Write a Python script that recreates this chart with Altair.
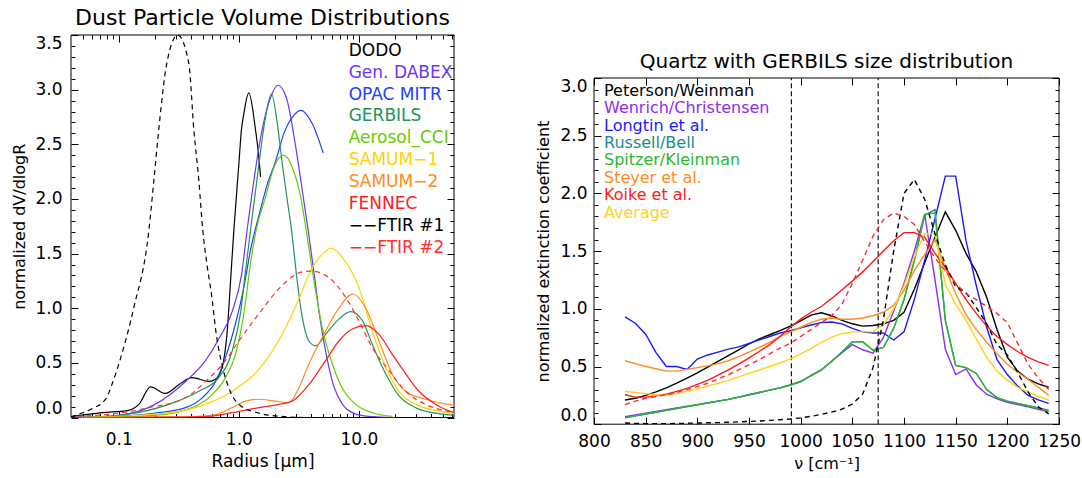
import altair as alt
import pandas as pd

FONT = "DejaVu Sans"

# ---------------- Left panel: dust volume distributions ----------------
dodo_r = [0.041, 0.0726, 0.121, 0.147, 0.184, 0.245, 0.316, 0.408, 0.562, 0.639, 0.726, 0.80, 0.853, 0.908, 1.0, 1.05, 1.10, 1.21, 1.377, 1.468, 1.516]
dodo_v = [0.01, 0.044, 0.066, 0.12, 0.28, 0.22, 0.30, 0.365, 0.33, 0.35, 0.46, 0.79, 1.25, 1.71, 2.32, 2.63, 2.78, 2.97, 2.63, 2.38, 2.20]

dabex_r = [0.045, 0.1, 0.2, 0.36, 0.527, 0.681, 0.88, 1.05, 1.17, 1.56, 1.84, 2.11, 2.48, 2.97, 3.37, 3.78, 4.25, 4.75, 5.4, 6.2, 7.3, 9.0, 12.0, 20.0]
dabex_v = [0.0, 0.02, 0.12, 0.33, 0.52, 0.72, 0.97, 1.3, 1.71, 2.63, 2.93, 3.04, 2.93, 2.48, 2.08, 1.71, 1.30, 0.90, 0.55, 0.28, 0.12, 0.04, 0.01, 0.0]

opac_r = [0.045, 0.1, 0.215, 0.36, 0.495, 0.64, 0.774, 0.938, 1.10, 1.26, 1.47, 1.71, 2.03, 2.37, 2.8, 3.28, 4.08, 5.04]
opac_v = [0.0, 0.01, 0.044, 0.09, 0.18, 0.33, 0.55, 0.86, 1.19, 1.55, 1.85, 2.12, 2.35, 2.6, 2.75, 2.81, 2.69, 2.42]

gerbils_r = [0.045, 0.1, 0.261, 0.464, 0.681, 0.88, 1.03, 1.136, 1.25, 1.47, 1.65, 1.87, 2.09, 2.30, 2.53, 2.75, 3.06, 3.37, 3.83, 4.36, 5.27, 6.81, 8.53, 10.7, 12.9, 16.7, 21.5, 29.7, 46.4, 61.9]
gerbils_v = [0.0, 0.02, 0.12, 0.24, 0.365, 0.61, 0.95, 1.34, 1.71, 2.32, 2.72, 2.96, 2.69, 2.32, 1.99, 1.71, 1.25, 0.92, 0.70, 0.656, 0.76, 0.90, 0.968, 0.885, 0.67, 0.40, 0.20, 0.09, 0.035, 0.02]

cci_r = [0.05, 0.2, 0.408, 0.6, 0.774, 0.938, 1.10, 1.25, 1.39, 1.67, 1.96, 2.37, 2.78, 3.27, 3.64, 4.22, 4.95, 6.0, 7.26, 9.4, 12.9, 19.0]
cci_v = [0.0, 0.02, 0.09, 0.21, 0.365, 0.58, 0.95, 1.41, 1.71, 2.02, 2.29, 2.40, 2.29, 2.02, 1.71, 1.25, 0.82, 0.49, 0.27, 0.12, 0.044, 0.01]

samum1_r = [0.05, 0.2, 0.464, 0.88, 1.6, 2.4, 3.2, 3.96, 5.0, 5.9, 7.2, 10.0, 12.9, 16.7, 21.5, 29.7, 46.0, 61.9]
samum1_v = [0.0, 0.03, 0.10, 0.24, 0.49, 0.80, 1.10, 1.34, 1.50, 1.55, 1.47, 1.19, 0.79, 0.46, 0.24, 0.12, 0.06, 0.035]

samum2_r = [0.05, 0.3, 0.6, 0.88, 1.14, 1.47, 2.0, 2.61, 3.16, 3.83, 5.27, 6.81, 8.91, 11.4, 14.7, 18.9, 24.5, 36.0, 61.9]
samum2_v = [0.0, 0.005, 0.02, 0.09, 0.15, 0.167, 0.15, 0.136, 0.27, 0.49, 0.79, 1.0, 1.13, 1.0, 0.70, 0.40, 0.24, 0.167, 0.11]

fennec_r = [0.04, 0.3, 0.562, 0.88, 1.47, 2.15, 2.78, 3.83, 5.27, 6.81, 8.8, 11.4, 14.7, 18.9, 24.5, 31.6, 43.7, 61.9]
fennec_v = [0.0, 0.003, 0.01, 0.044, 0.09, 0.12, 0.15, 0.30, 0.52, 0.70, 0.81, 0.84, 0.76, 0.58, 0.40, 0.24, 0.12, 0.044]

ftir1_r = [0.04, 0.0464, 0.0596, 0.078, 0.0875, 0.104, 0.133, 0.178, 0.196, 0.215, 0.251, 0.31, 0.383, 0.422, 0.464, 0.501, 0.541, 0.596, 0.643, 0.721, 0.826, 1.0, 1.47, 2.28, 3.5]
ftir1_v = [0.005, 0.03, 0.08, 0.17, 0.30, 0.55, 1.0, 1.71, 2.17, 2.63, 3.24, 3.50, 3.24, 2.63, 2.17, 1.71, 1.41, 1.10, 0.79, 0.49, 0.27, 0.12, 0.04, 0.01, 0.0]

ftir2_r = [0.045, 0.1, 0.178, 0.36, 0.527, 0.774, 1.0, 1.47, 2.3, 3.3, 3.96, 5.62, 7.74, 10.0, 12.9, 17.8, 24.5, 36.0, 52.7, 61.9]
ftir2_v = [0.01, 0.04, 0.09, 0.18, 0.33, 0.52, 0.70, 0.95, 1.21, 1.33, 1.34, 1.28, 1.10, 0.885, 0.64, 0.43, 0.24, 0.12, 0.06, 0.044]

left_names = ["DODO", "Gen. DABEX", "OPAC MITR", "GERBILS", "Aerosol_CCI",
              "SAMUM-1", "SAMUM-2", "FENNEC", "FTIR #1", "FTIR #2"]
left_labels = ["DODO", "Gen. DABEX", "OPAC MITR", "GERBILS", "Aerosol_CCI",
               "SAMUM\u22121", "SAMUM\u22122", "FENNEC", "\u2212\u2212FTIR #1", "\u2212\u2212FTIR #2"]
left_colors = ["#000000", "#6a35ff", "#2040ff", "#22925a", "#66cc00",
               "#ffd200", "#ff8c1a", "#ff2020", "#000000", "#ff3030"]
left_x = [dodo_r, dabex_r, opac_r, gerbils_r, cci_r, samum1_r, samum2_r, fennec_r, ftir1_r, ftir2_r]
left_y = [dodo_v, dabex_v, opac_v, gerbils_v, cci_v, samum1_v, samum2_v, fennec_v, ftir1_v, ftir2_v]
left_dashed = [False, False, False, False, False, False, False, False, True, True]

# ---------------- Right panel: quartz extinction spectra ----------------
nu = [830, 840, 850, 860, 870, 880, 890, 900, 910, 920, 930, 940, 950, 960,
      970, 980, 990, 1000, 1010, 1020, 1030, 1040, 1050, 1060, 1070, 1080, 1090,
      1100, 1110, 1120, 1130, 1140, 1150, 1160, 1170, 1180, 1190, 1200, 1210,
      1220, 1230, 1240]
peterson = [0.21, 0.225, 0.25, 0.28, 0.315, 0.355, 0.40, 0.445, 0.495, 0.545, 0.595, 0.645, 0.695, 0.74,
            0.775, 0.81, 0.85, 0.895, 0.945, 0.965, 0.94, 0.90, 0.87, 0.85, 0.855, 0.87, 0.90,
            0.97, 1.17, 1.40, 1.62, 1.84, 1.68, 1.48, 1.32, 1.10, 0.82, 0.58, 0.46,
            0.39, 0.35, 0.32]
wenrich = [0.065, 0.08, 0.095, 0.11, 0.125, 0.14, 0.155, 0.17, 0.185, 0.20, 0.215, 0.235, 0.255, 0.275,
           0.295, 0.315, 0.34, 0.37, 0.42, 0.47, 0.545, 0.62, 0.69, 0.645, 0.615, 0.75, 0.98,
           1.22, 1.50, 1.82, 1.25, 0.65, 0.43, 0.48, 0.34, 0.26, 0.22, 0.19, 0.17,
           0.15, 0.13, 0.11]
longtin = [0.93, 0.875, 0.78, 0.62, 0.50, 0.50, 0.475, 0.565, 0.60, 0.625, 0.65, 0.67, 0.70, 0.73,
           0.76, 0.79, 0.81, 0.835, 0.86, 0.88, 0.885, 0.87, 0.83, 0.80, 0.79, 0.79, 0.73,
           0.80, 1.08, 1.42, 1.78, 2.15, 2.15, 1.59, 1.20, 0.84, 0.56, 0.43, 0.33,
           0.25, 0.21, 0.18]
russell = [0.055, 0.072, 0.088, 0.104, 0.12, 0.136, 0.152, 0.168, 0.184, 0.20, 0.215, 0.235, 0.255, 0.275,
           0.295, 0.315, 0.34, 0.37, 0.42, 0.47, 0.545, 0.625, 0.715, 0.715, 0.64, 0.665, 0.83,
           1.08, 1.42, 1.81, 1.86, 0.90, 0.51, 0.49, 0.44, 0.30, 0.23, 0.20, 0.18,
           0.16, 0.14, 0.12]
spitzer = [0.055, 0.072, 0.088, 0.104, 0.12, 0.136, 0.152, 0.168, 0.184, 0.20, 0.215, 0.235, 0.255, 0.275,
           0.295, 0.315, 0.34, 0.37, 0.42, 0.47, 0.545, 0.625, 0.715, 0.715, 0.64, 0.665, 0.83,
           1.08, 1.42, 1.82, 1.83, 0.90, 0.51, 0.49, 0.44, 0.30, 0.23, 0.20, 0.18,
           0.16, 0.14, 0.12]
steyer = [0.55, 0.525, 0.50, 0.48, 0.46, 0.46, 0.475, 0.49, 0.505, 0.525, 0.55, 0.585, 0.625, 0.665,
          0.71, 0.76, 0.80, 0.84, 0.88, 0.91, 0.92, 0.91, 0.91, 0.92, 0.94, 0.97, 1.03,
          1.16, 1.33, 1.47, 1.60, 1.35, 1.13, 0.95, 0.82, 0.71, 0.61, 0.52, 0.45,
          0.39, 0.32, 0.25]
koike = [0.255, 0.235, 0.235, 0.245, 0.26, 0.285, 0.31, 0.345, 0.38, 0.425, 0.47, 0.52, 0.575, 0.63,
         0.69, 0.76, 0.84, 0.91, 0.97, 1.02, 1.09, 1.165, 1.24, 1.32, 1.41, 1.50, 1.59,
         1.66, 1.66, 1.62, 1.48, 1.36, 1.22, 1.08, 0.96, 0.85, 0.76, 0.69, 0.63,
         0.58, 0.54, 0.51]
average = [0.285, 0.275, 0.265, 0.255, 0.25, 0.265, 0.285, 0.305, 0.33, 0.355, 0.38, 0.41, 0.44, 0.47,
           0.50, 0.53, 0.565, 0.61, 0.655, 0.71, 0.755, 0.785, 0.80, 0.80, 0.80, 0.86, 1.00,
           1.20, 1.45, 1.65, 1.65, 1.21, 1.04, 0.90, 0.74, 0.58, 0.46, 0.38, 0.32,
           0.28, 0.24, 0.21]
black_dash = [0.01, 0.007, 0.005, 0.005, 0.005, 0.006, 0.008, 0.01, 0.012, 0.014, 0.017, 0.02, 0.024, 0.028,
              0.033, 0.039, 0.045, 0.055, 0.068, 0.085, 0.105, 0.13, 0.175, 0.26, 0.49, 0.90, 1.50,
              2.00, 2.12, 1.95, 1.65, 1.38, 1.19, 1.14, 1.01, 0.87, 0.69, 0.60, 0.45,
              0.28, 0.15, 0.09]
red_dash = [0.17, 0.20, 0.225, 0.24, 0.255, 0.275, 0.30, 0.325, 0.355, 0.39, 0.43, 0.47, 0.515, 0.56,
            0.61, 0.66, 0.70, 0.76, 0.82, 0.88, 0.94, 1.04, 1.22, 1.42, 1.63, 1.77, 1.83,
            1.80, 1.73, 1.58, 1.44, 1.33, 1.22, 1.13, 1.08, 1.02, 0.96, 0.88, 0.70,
            0.52, 0.40, 0.30]
channel_lines = [991, 1075]

right_labels = ["Peterson/Weinman", "Wenrich/Christensen", "Longtin et al.", "Russell/Bell",
                "Spitzer/Kleinman", "Steyer et al.", "Koike et al.", "Average"]
right_colors = ["#000000", "#8f2cf0", "#1a1aff", "#1a8a8a", "#2db82d", "#ff8c1a", "#ff1a1a", "#ffd21a"]
right_y = [peterson, wenrich, longtin, russell, spitzer, steyer, koike, average]

# ---------------- helpers ----------------
def tick_axis(orient, values, size, shift=0, labels=False, title=None, fmt=None,
              label_pad=0, title_pad=0, flush=False, title_size=16):
    kw = dict(orient=orient, values=values, tickSize=size, offset=-(size + shift),
              domain=False, grid=False, labels=labels, ticks=True,
              tickColor="black", tickWidth=1, title=title)
    if labels:
        kw.update(format=fmt, labelFont=FONT, labelFontSize=17, labelColor="black",
                  labelPadding=label_pad, labelFlush=flush, labelOverlap=False)
    if title is not None:
        kw.update(titleFont=FONT, titleFontSize=title_size, titleFontWeight="normal",
                  titleColor="black", titlePadding=title_pad)
    return alt.Axis(**kw)


# ---------------- Left chart ----------------
LW, LH = 383, 382.5
lx_scale = alt.Scale(type="log", domain=[0.04, 61.9], nice=False)
ly_scale = alt.Scale(domain=[0, 3.5], nice=False, zero=False)

lx_major = [0.1, 1, 10]
lx_minor = [0.05, 0.06, 0.07, 0.08, 0.09, 0.2, 0.3, 0.4, 0.5, 0.6, 0.7, 0.8, 0.9,
            2, 3, 4, 5, 6, 7, 8, 9, 20, 30, 40, 50, 60]
ly_major = [0.0, 0.5, 1.0, 1.5, 2.0, 2.5, 3.0, 3.5]
ly_minor = [0.1, 0.2, 0.3, 0.4, 0.6, 0.7, 0.8, 0.9, 1.1, 1.2, 1.3, 1.4, 1.6, 1.7, 1.8, 1.9,
            2.1, 2.2, 2.3, 2.4, 2.6, 2.7, 2.8, 2.9, 3.1, 3.2, 3.3, 3.4]

left_axes = [
    (tick_axis("bottom", lx_major, 7, labels=True, title="Radius [\u03bcm]", fmt=".1f",
               label_pad=14, title_pad=6, title_size=17),
     tick_axis("left", ly_major, 7, labels=True, title="normalized dV/dlogR", fmt=".1f",
               label_pad=9, title_pad=7, flush=True)),
    (tick_axis("bottom", lx_minor, 4), tick_axis("left", ly_minor, 4)),
    (tick_axis("top", lx_major, 7), tick_axis("right", ly_major, 7)),
    (tick_axis("top", lx_minor, 4), tick_axis("right", ly_minor, 4)),
]

left_layers = []
frame_l = pd.DataFrame({"x": [0.04], "x2": [61.9], "y": [0.0], "y2": [3.5]})
left_layers.append(
    alt.Chart(frame_l).mark_rect(filled=False, color="black", strokeWidth=1).encode(
        x=alt.X("x:Q", scale=lx_scale, axis=None), x2="x2:Q",
        y=alt.Y("y:Q", scale=ly_scale, axis=None), y2="y2:Q"))

for i, name in enumerate(left_names):
    df = pd.DataFrame({"r": left_x[i], "v": left_y[i]})
    if i < len(left_axes):
        ax_x, ax_y = left_axes[i]
    else:
        ax_x, ax_y = None, None
    mk = dict(color=left_colors[i], strokeWidth=1.2, clip=True, interpolate="monotone")
    if left_dashed[i]:
        mk["strokeDash"] = [5, 4]
    left_layers.append(
        alt.Chart(df).mark_line(**mk).encode(
            x=alt.X("r:Q", scale=lx_scale, axis=ax_x),
            y=alt.Y("v:Q", scale=ly_scale, axis=ax_y),
            order="r:Q"))

for i, lab in enumerate(left_labels):
    left_layers.append(
        alt.Chart(pd.DataFrame({"t": [lab]})).mark_text(
            align="left", baseline="middle", font=FONT, fontSize=17,
            color=left_colors[i]).encode(
            text="t:N", x=alt.value(277.7), y=alt.value(15.7 + 21.9 * i)))

left_chart = alt.layer(*left_layers).resolve_axis(x="independent", y="independent").properties(
    width=LW, height=LH,
    title=alt.TitleParams("Dust Particle Volume Distributions", font=FONT, fontSize=22,
                          fontWeight="normal", color="black", anchor="middle", offset=4))

# ---------------- Right chart ----------------
RW, RH = 465, 389.2
RTOP = 43.0
rx_scale = alt.Scale(domain=[800, 1250], nice=False, zero=False)
ry_scale = alt.Scale(domain=[0, 3.0], range=[RH, RTOP], nice=False, zero=False)

rx_major = [800, 850, 900, 950, 1000, 1050, 1100, 1150, 1200, 1250]
ry_major = [0.0, 0.5, 1.0, 1.5, 2.0, 2.5, 3.0]
ry_minor = [0.1, 0.2, 0.3, 0.4, 0.6, 0.7, 0.8, 0.9, 1.1, 1.2, 1.3, 1.4, 1.6, 1.7, 1.8, 1.9,
            2.1, 2.2, 2.3, 2.4, 2.6, 2.7, 2.8, 2.9]

right_axes = [
    (tick_axis("bottom", rx_major, 7, labels=True, title="\u03bd [cm\u207b\u00b9]", fmt="d",
               label_pad=9, title_pad=6),
     tick_axis("left", ry_major, 7, labels=True, title="normalized extinction coefficient",
               fmt=".1f", label_pad=7, title_pad=8, flush=True)),
    (None, tick_axis("left", ry_minor, 4)),
    (tick_axis("top", rx_major, 7, shift=RTOP), tick_axis("right", ry_major, 7)),
    (None, tick_axis("right", ry_minor, 4)),
]

right_layers = []
frame_r = pd.DataFrame({"x": [800], "x2": [1250], "y": [0.0], "y2": [3.0]})
right_layers.append(
    alt.Chart(frame_r).mark_rect(filled=False, color="black", strokeWidth=1).encode(
        x=alt.X("x:Q", scale=rx_scale, axis=None), x2="x2:Q",
        y=alt.Y("y:Q", scale=ry_scale, axis=None), y2="y2:Q"))

right_layers.append(
    alt.Chart(pd.DataFrame({"x": channel_lines})).mark_rule(
        color="black", strokeWidth=1.1, strokeDash=[5, 3]).encode(
        x=alt.X("x:Q", scale=rx_scale, axis=None),
        y=alt.Y(datum=0.0, scale=ry_scale, axis=None),
        y2=alt.Y2(datum=3.0)))

right_series = [(right_y[i], right_colors[i], None) for i in range(len(right_y))]
right_series += [(black_dash, "#000000", [5, 4]), (red_dash, "#ff2a2a", [5, 4])]
for i, (vals, col, dash) in enumerate(right_series):
    df = pd.DataFrame({"nu": nu, "v": vals})
    if i < len(right_axes):
        ax_x, ax_y = right_axes[i]
    else:
        ax_x, ax_y = None, None
    mk = dict(color=col, strokeWidth=1.4, clip=True)
    if dash:
        mk["strokeDash"] = dash
    right_layers.append(
        alt.Chart(df).mark_line(**mk).encode(
            x=alt.X("nu:Q", scale=rx_scale, axis=ax_x),
            y=alt.Y("v:Q", scale=ry_scale, axis=ax_y),
            order="nu:Q"))

for i, lab in enumerate(right_labels):
    right_layers.append(
        alt.Chart(pd.DataFrame({"t": [lab]})).mark_text(
            align="left", baseline="middle", font=FONT, fontSize=16,
            color=right_colors[i]).encode(
            text="t:N", x=alt.value(10), y=alt.value(55.7 + 17.4 * i)))

right_layers.append(
    alt.Chart(pd.DataFrame({"t": ["Quartz with GERBILS size distribution"]})).mark_text(
        align="center", baseline="middle", font=FONT, fontSize=20, color="black").encode(
        text="t:N", x=alt.value(RW / 2), y=alt.value(27.4)))

right_chart = alt.layer(*right_layers).resolve_axis(x="independent", y="independent").properties(
    width=RW, height=RH)

chart = alt.hconcat(left_chart, right_chart, spacing=80).properties(
    padding={"left": 11, "top": 7, "right": 0, "bottom": 0},
    background="white",
).configure_view(stroke=None)

chart.save("out.html", embed_options={"renderer": "svg", "actions": False})
